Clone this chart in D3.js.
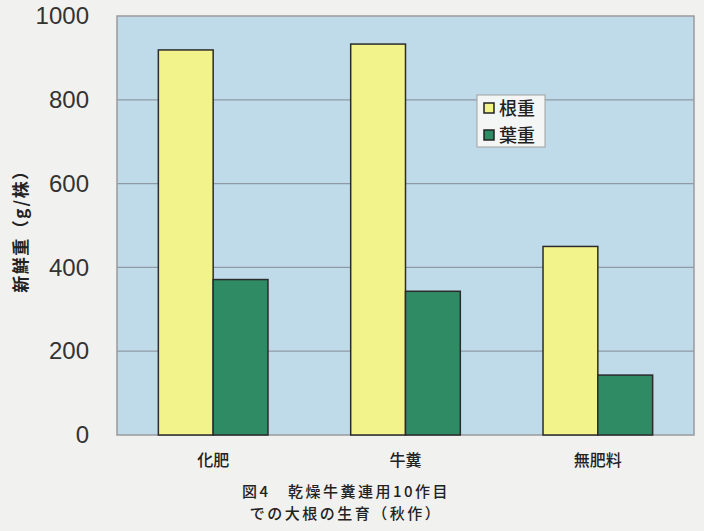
<!DOCTYPE html>
<html>
<head>
    <meta charset="utf-8">
    <title>大根の生育</title>
    <script src="https://d3js.org/d3.v7.min.js"></script>
    <style type="text/css">
        body{
            margin: 0;
            background: #f1f1ef;
        }
        .axis path,
        .axis line{
            display: none;
        }
        .axis text{
            font-family: "Liberation Sans", Arial, sans-serif;
            font-size: 24px;
            fill: #333;
        }
        .jp{
            font-family: "Noto Sans CJK JP", sans-serif;
            fill: #222;
        }
    </style>
</head>
<body>
<script>
    var w = 704;
    var h = 531;
    var categories = ["化肥", "牛糞", "無肥料"];
    var series = ["根重", "葉重"];
    var rootWeight = [919, 933, 450];
    var leafWeight = [371, 343, 143];
    var yTicks = [0, 200, 400, 600, 800, 1000];
    var colors = ["#f3f38c", "#2f8b63"];

    var plot = {left: 117, right: 694, top: 16, bottom: 435};

    var table = categories.map(function(c, i){
        return {cat: c, values: [rootWeight[i], leafWeight[i]]};
    });

    var x0 = d3.scaleBand()
                .domain(categories)
                .range([plot.left, plot.right])
                .paddingInner(0.43)
                .paddingOuter(0.215);
    var x1 = d3.scaleBand()
                .domain(series)
                .range([0, x0.bandwidth()]);
    var yScale = d3.scaleLinear()
                .domain([0, 1000])
                .range([plot.bottom, plot.top]);

    var svg = d3.select("body")
                .append("svg")
                .attr("width", w)
                .attr("height", h);

    // plot background
    svg.append("rect")
        .attr("x", plot.left)
        .attr("y", plot.top)
        .attr("width", plot.right - plot.left)
        .attr("height", plot.bottom - plot.top)
        .attr("fill", "#bfdbe9")
        .attr("stroke", "#9a9a9e")
        .attr("stroke-width", 1.5);

    // grid lines
    svg.selectAll(".grid")
        .data(yTicks.slice(1, -1))
        .enter()
        .append("line")
        .attr("class", "grid")
        .attr("x1", plot.left)
        .attr("x2", plot.right)
        .attr("y1", function(d){ return yScale(d); })
        .attr("y2", function(d){ return yScale(d); })
        .attr("stroke", "#8f9aa6")
        .attr("stroke-width", 1.2);

    // bars
    var groups = svg.selectAll(".grp")
        .data(table)
        .enter()
        .append("g")
        .attr("class", "grp")
        .attr("transform", function(d){ return "translate(" + x0(d.cat) + ",0)"; });
    groups.selectAll("rect")
        .data(function(d){
            return d.values.map(function(v, i){ return {s: series[i], v: v, i: i}; });
        })
        .enter()
        .append("rect")
        .attr("x", function(d){ return x1(d.s); })
        .attr("y", function(d){ return yScale(d.v); })
        .attr("width", x1.bandwidth())
        .attr("height", function(d){ return yScale(0) - yScale(d.v); })
        .attr("fill", function(d){ return colors[d.i]; })
        .attr("stroke", "#2b2b2b")
        .attr("stroke-width", 1.5);

    // y axis
    var yAxis = d3.axisLeft(yScale)
                .tickValues(yTicks)
                .tickFormat(d3.format("d"))
                .tickSize(0)
                .tickPadding(28);
    svg.append("g")
        .attr("class", "axis")
        .attr("transform", "translate(" + plot.left + ",0)")
        .call(yAxis);

    // x axis labels
    svg.selectAll(".xlab")
        .data(categories)
        .enter()
        .append("text")
        .attr("class", "xlab jp")
        .attr("x", function(d){ return x0(d) + x0.bandwidth() / 2; })
        .attr("y", 466)
        .attr("text-anchor", "middle")
        .attr("font-size", "16px")
        .attr("font-weight", "500")
        .text(function(d){ return d; });

    // y axis title
    svg.append("text")
        .attr("class", "jp")
        .attr("transform", "translate(27,227) rotate(-90)")
        .attr("text-anchor", "middle")
        .attr("font-size", "17px")
        .attr("font-weight", "bold")
        .attr("letter-spacing", "1.5px")
        .text("新鮮重（g/株）");

    // legend
    var lg = svg.append("g").attr("transform", "translate(477,95)");
    lg.append("rect")
        .attr("width", 68)
        .attr("height", 52)
        .attr("fill", "#f4f6f6")
        .attr("stroke", "#a0a0a0");
    series.forEach(function(s, i){
        lg.append("rect")
            .attr("x", 7)
            .attr("y", 8 + i * 27)
            .attr("width", 10)
            .attr("height", 10)
            .attr("fill", colors[i])
            .attr("stroke", "#222")
            .attr("stroke-width", 1.5);
        lg.append("text")
            .attr("class", "jp")
            .attr("x", 22)
            .attr("y", 20 + i * 27)
            .attr("font-size", "18px")
            .attr("font-weight", "500")
            .attr("fill", "#333")
            .text(s);
    });

    // caption
    var caption = ["図4　乾燥牛糞連用10作目", "での大根の生育（秋作）"];
    svg.selectAll(".cap")
        .data(caption)
        .enter()
        .append("text")
        .attr("class", "cap jp")
        .attr("x", 346)
        .attr("y", function(d, i){ return 497 + i * 22; })
        .attr("text-anchor", "middle")
        .attr("font-size", "15px")
        .attr("font-weight", "500")
        .attr("letter-spacing", "2.5px")
        .attr("fill", "#333")
        .text(function(d){ return d; });
</script>
</body>
</html>
